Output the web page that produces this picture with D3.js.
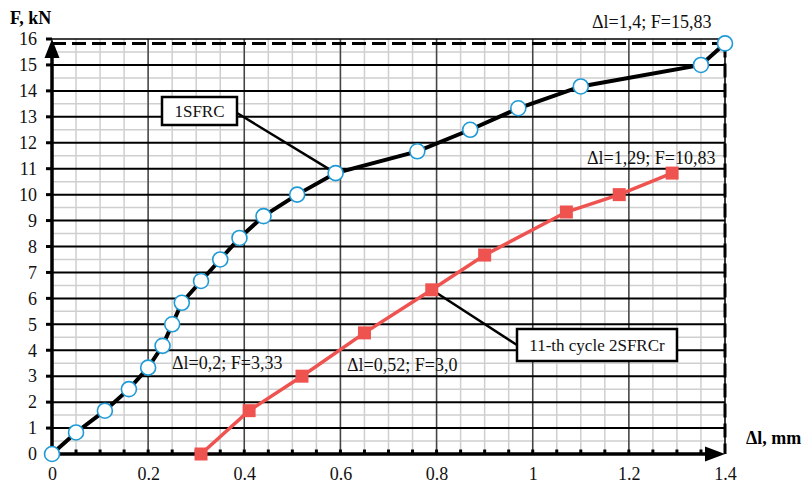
<!DOCTYPE html>
<html><head><meta charset="utf-8">
<script src="https://cdn.jsdelivr.net/npm/d3@7"></script>
<style>body{margin:0;background:#fff}svg{display:block}</style>
</head><body><svg id="c" width="805" height="484"></svg>
<script>
// Data
const s1x = [0,0.05,0.11,0.16,0.2,0.23,0.25,0.27,0.31,0.35,0.39,0.44,0.51,0.59,0.76,0.87,0.97,1.1,1.35,1.4];
const s1y = [0,0.83,1.67,2.5,3.33,4.17,5.0,5.83,6.67,7.5,8.33,9.17,10.0,10.83,11.67,12.5,13.33,14.17,15.0,15.83];
const s2x = [0.31,0.41,0.52,0.65,0.79,0.9,1.07,1.18,1.29];
const s2y = [0,1.67,3.0,4.67,6.33,7.67,9.33,10.0,10.83];
const xTicks = [0,0.2,0.4,0.6,0.8,1,1.2,1.4];
const yTicks = [0,1,2,3,4,5,6,7,8,9,10,11,12,13,14,15,16];
const seriesNames = ["1SFRC","11-th cycle 2SFRCr"];
const annotations = [
  {t:"Δl=1,4; F=15,83", x:1.4, y:15.83},
  {t:"Δl=1,29; F=10,83", x:1.29, y:10.83},
  {t:"Δl=0,2; F=3,33", x:0.2, y:3.33},
  {t:"Δl=0,52; F=3,0", x:0.52, y:3.0}
];

const FONT = "'Liberation Serif', 'Times New Roman', Times, 'DejaVu Serif', serif";
const svg = d3.select("#c").style("font-family", FONT);
const x = d3.scaleLinear().domain([0,1.4]).range([52,725]);
const y = d3.scaleLinear().domain([0,16]).range([454,39]);

// Minor grid
const g = svg.append("g");
g.selectAll(".vm").data(d3.range(0,29).map(i=>i*0.05)).enter().append("line")
  .attr("x1",d=>x(d)).attr("x2",d=>x(d)).attr("y1",y(0)).attr("y2",y(16))
  .attr("stroke","#cfcfcf").attr("stroke-width",1.5);
g.selectAll(".hm").data(d3.range(0,16).map(i=>i+0.5)).enter().append("line")
  .attr("x1",x(0)).attr("x2",x(1.4)).attr("y1",d=>y(d)).attr("y2",d=>y(d))
  .attr("stroke","#cfcfcf").attr("stroke-width",1.5);
// Major grid
g.selectAll(".vM").data(xTicks.slice(1,-1)).enter().append("line")
  .attr("x1",d=>x(d)).attr("x2",d=>x(d)).attr("y1",y(0)).attr("y2",y(16))
  .attr("stroke","#444").attr("stroke-width",1.5);
g.selectAll(".hM").data(yTicks.slice(1,-1)).enter().append("line")
  .attr("x1",x(0)).attr("x2",x(1.4)).attr("y1",d=>y(d)).attr("y2",d=>y(d))
  .attr("stroke","#000").attr("stroke-width",2);
// frame top/right
g.append("line").attr("x1",x(0)).attr("x2",x(1.4)).attr("y1",y(16)).attr("y2",y(16)).attr("stroke","#000").attr("stroke-width",1.5);
g.append("line").attr("x1",x(1.4)).attr("x2",x(1.4)).attr("y1",y(16)).attr("y2",y(0)).attr("stroke","#000").attr("stroke-width",1.5);
// dashed limit lines
g.append("line").attr("x1",x(0)).attr("x2",x(1.4)).attr("y1",y(15.83)).attr("y2",y(15.83))
  .attr("stroke","#000").attr("stroke-width",3).attr("stroke-dasharray","14,6");
g.append("line").attr("x1",x(1.4)).attr("x2",x(1.4)).attr("y1",y(15.83)).attr("y2",y(0))
  .attr("stroke","#000").attr("stroke-width",3).attr("stroke-dasharray","14,6");

// Axes
const xa = svg.append("g").attr("transform",`translate(0,${y(0)})`)
  .call(d3.axisBottom(x).tickValues(xTicks).tickFormat(d=>String(d)).tickSize(0).tickPadding(13));
const ya = svg.append("g").attr("transform",`translate(${x(0)},0)`)
  .call(d3.axisLeft(y).tickValues(yTicks).tickFormat(d=>String(d)).tickSize(0).tickPadding(15));
[xa,ya].forEach(a=>{a.attr("font-family",null);a.select(".domain").remove();
  a.selectAll("text").attr("font-size",18).attr("fill","#111").style("font-family",FONT);});

// axis lines
svg.append("line").attr("x1",x(0)).attr("x2",x(1.4)-14).attr("y1",y(0)).attr("y2",y(0)).attr("stroke","#000").attr("stroke-width",3.5);
svg.append("line").attr("x1",x(0)).attr("x2",x(0)).attr("y1",y(0)).attr("y2",y(16)+14).attr("stroke","#000").attr("stroke-width",3.5);
// x small ticks
svg.selectAll(".xt").data(d3.range(1,28).map(i=>i*0.05)).enter().append("line")
  .attr("x1",d=>x(d)).attr("x2",d=>x(d)).attr("y1",y(0)-4.5).attr("y2",y(0)).attr("stroke","#000").attr("stroke-width",3);
// y small ticks
svg.selectAll(".yt").data(yTicks).enter().append("line")
  .attr("x1",x(0)-6).attr("x2",x(0)).attr("y1",d=>y(d)).attr("y2",d=>y(d)).attr("stroke","#000").attr("stroke-width",3);
// arrows
svg.append("path").attr("d",`M${x(0)},${y(16)} L${x(0)-7.5},${y(16)+19} L${x(0)+7.5},${y(16)+19} Z`).attr("fill","#000");
svg.append("path").attr("d",`M${x(1.4)},${y(0)} L${x(1.4)-20},${y(0)-7.5} L${x(1.4)-20},${y(0)+7.5} Z`).attr("fill","#000");

// axis titles
svg.append("text").attr("x",10).attr("y",24).attr("font-size",18).attr("font-weight","bold").style("font-family",FONT).text("F, kN");
svg.append("text").attr("x",746).attr("y",444).attr("font-size",18).attr("font-weight","bold").style("font-family",FONT).text("Δl, mm");

// Series
const d1 = s1x.map((v,i)=>[v,s1y[i]]);
const d2 = s2x.map((v,i)=>[v,s2y[i]]);
const line = d3.line().x(d=>x(d[0])).y(d=>y(d[1]));
const red = "#ef5350";

// leader lines
const p1 = d1[13], p2 = d2[4];
svg.append("line").attr("x1",237).attr("y1",113).attr("x2",x(p1[0])).attr("y2",y(p1[1])).attr("stroke","#000").attr("stroke-width",2.5);
svg.append("line").attr("x1",x(p2[0])).attr("y1",y(p2[1])).attr("x2",517).attr("y2",345).attr("stroke","#000").attr("stroke-width",2.5);

svg.append("path").datum(d2).attr("d",line).attr("fill","none").attr("stroke",red).attr("stroke-width",3.5);
svg.selectAll(".sq").data(d2).enter().append("rect")
  .attr("x",d=>x(d[0])-6.5).attr("y",d=>y(d[1])-6.5).attr("width",13).attr("height",13).attr("fill",red);

svg.append("path").datum(d1).attr("d",line).attr("fill","none").attr("stroke","#000").attr("stroke-width",4);
svg.selectAll(".ci").data(d1).enter().append("circle")
  .attr("cx",d=>x(d[0])).attr("cy",d=>y(d[1])).attr("r",7.5).attr("fill","#fff").attr("stroke","#1e9ad6").attr("stroke-width",1.6);

// label boxes
function box(x0,y0,w,h,t){
  svg.append("rect").attr("x",x0).attr("y",y0).attr("width",w).attr("height",h).attr("fill","#fff").attr("stroke","#000").attr("stroke-width",2.5);
  svg.append("text").attr("x",x0+w/2).attr("y",y0+h/2+6).attr("text-anchor","middle").attr("font-size",17).attr("fill","#111").style("font-family",FONT).text(t);
}
box(162,97,75,28,seriesNames[0]);
box(517,329,160,32,seriesNames[1]);

// annotations
const annPos = [[592,28],[587,164],[172,369],[347,371]];
annotations.forEach((a,i)=>{
  svg.append("text").attr("x",annPos[i][0]).attr("y",annPos[i][1]).attr("font-size",18).attr("fill","#111").style("font-family",FONT).text(a.t);
});
</script></body></html>
